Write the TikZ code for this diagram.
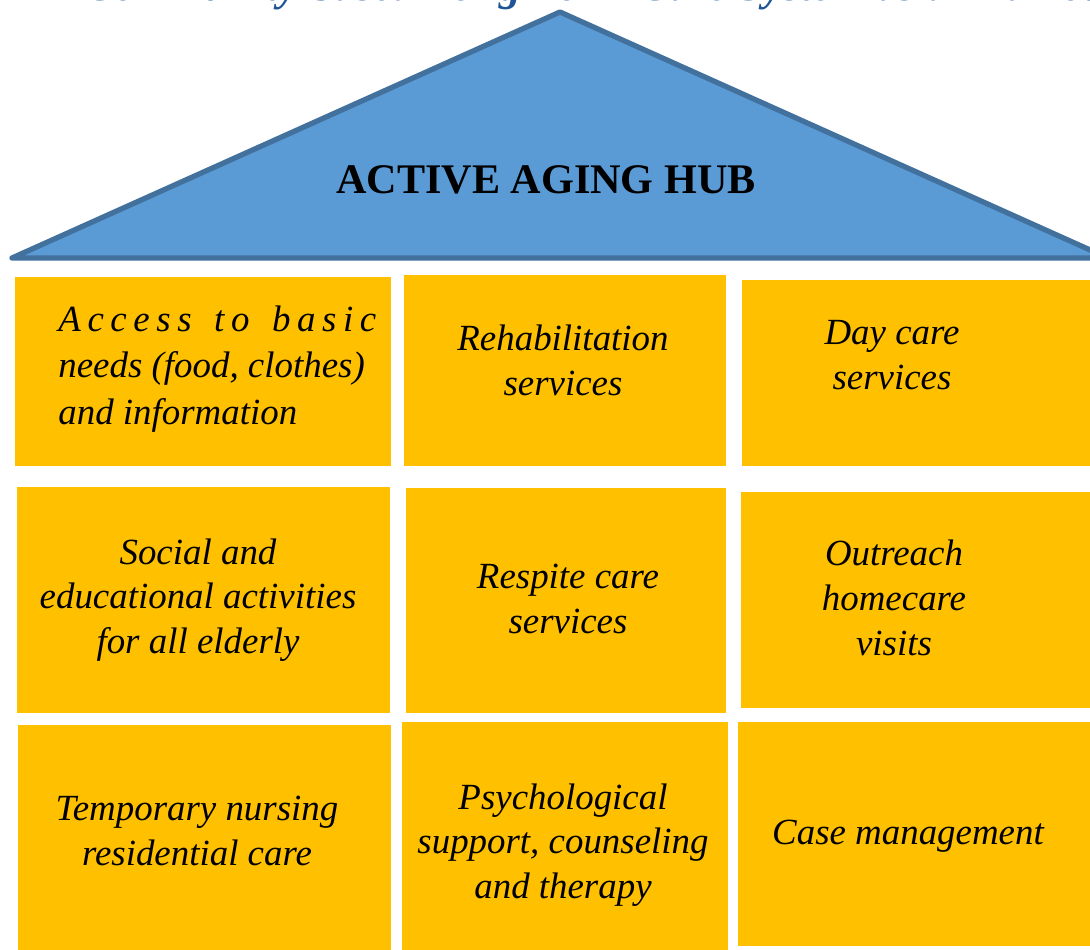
\documentclass[tikz,border=0pt]{standalone}
\usepackage{fontspec}
\setmainfont{Liberation Serif}
\usepackage{tikz}
\definecolor{hubblue}{RGB}{91,155,213}
\definecolor{hubedge}{RGB}{65,113,156}
\definecolor{cellgold}{RGB}{255,192,0}
\definecolor{titleblue}{RGB}{31,85,151}
\tikzset{celltext/.style={font=\fontsize{21}{25.5}\selectfont\itshape, align=center, inner sep=0pt}}

\begin{document}
\begin{tikzpicture}
    \useasboundingbox (0,0) rectangle (21.8,18.98);
    % Heading (cut off at the top)
    \node[anchor=base west, inner sep=0pt, text=titleblue, font=\fontsize{25}{30}\selectfont\bfseries\itshape] (heading) at (1.7,18.96) {Community-based Long-Term Care System as a Framework};

    % Roof
    \fill[hubblue] (0.24,13.82) -- (11.2,18.74) -- (22.16,13.82) -- cycle;
    \draw[hubedge, line width=3pt, line join=round, line cap=round] (0.24,13.82) -- (11.2,18.74) -- (22.16,13.82) -- cycle;
    \node[font=\fontsize{24}{28}\selectfont\bfseries] (hub) at (10.92,15.38) {ACTIVE AGING HUB};

    % Service cells
    \foreach \xa/\ya/\xb/\yb in {0.30/9.66/7.82/13.44, 8.08/9.66/14.52/13.48, 14.84/9.66/22/13.38,
        0.34/4.72/7.80/9.24, 8.12/4.72/14.52/9.22, 14.82/4.82/22/9.14,
        0.36/-0.1/7.82/4.48, 8.04/-0.1/14.56/4.54, 14.76/0.06/22/4.54} {
        \fill[cellgold] (\xa,\ya) rectangle (\xb,\yb);
    }

    % Row 1
    \node[celltext, anchor=west, align=left] (basic) at (1.16,11.60) {\makebox[6.36cm][s]{A\hfill c\hfill c\hfill e\hfill s\hfill s\hfill\ \hfill t\hfill o\hfill\ \hfill b\hfill a\hfill s\hfill i\hfill c}\\[1pt]needs (food, clothes)\\[1pt]and information};
    \node[celltext] (rehab) at (11.26,11.78) {Rehabilitation\\services};
    \node[celltext] (daycare) at (17.84,11.88) {Day care\\services};

    % Row 2
    \node[celltext] (social) at (3.96,6.98) {Social and\\educational activities\\for all elderly};
    \node[celltext] (respite) at (11.36,7.00) {Respite care\\services};
    \node[celltext] (outreach) at (17.88,7.02) {Outreach\\homecare\\visits};

    % Row 3
    \node[celltext] (nursing) at (3.94,2.36) {Temporary nursing\\residential care};
    \node[celltext] (psych) at (11.26,2.08) {Psychological\\support, counseling\\and therapy};
    \node[celltext] (casemgmt) at (18.16,2.26) {Case management};
\end{tikzpicture}
\end{document}
